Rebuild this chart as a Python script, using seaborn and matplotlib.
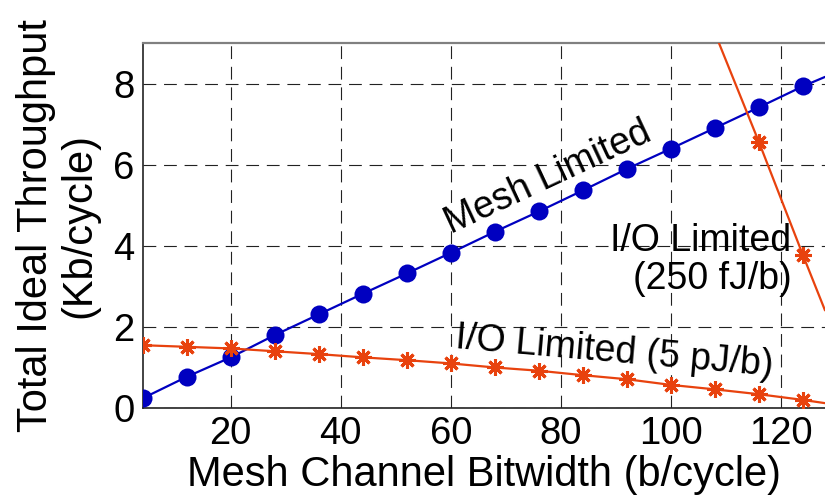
import matplotlib
matplotlib.use("Agg")
import matplotlib.pyplot as plt
import pandas as pd
import seaborn as sns

# bitwidth sweep (b/cycle); last point 128 is drawn as line only
bitwidth = [4, 12, 20, 28, 36, 44, 52, 60, 68, 76, 84, 92, 100, 108, 116, 124, 128]
mesh_tp = [0.24, 0.77, 1.25, 1.80, 2.31, 2.82, 3.32, 3.83, 4.35, 4.85,
           5.37, 5.90, 6.40, 6.91, 7.42, 7.94, 8.17]
io_5pj_tp = [1.55, 1.51, 1.47, 1.40, 1.33, 1.25, 1.18, 1.10, 1.00, 0.92,
             0.81, 0.71, 0.57, 0.46, 0.34, 0.20, 0.12]

io_250fj_bw = [108, 116, 124, 128]
io_250fj_tp = [9.25, 6.56, 3.77, 2.41]

x_ticks = [20, 40, 60, 80, 100, 120]
y_ticks = [0, 2, 4, 6, 8]

BLUE = "#0000c0"
ORANGE = "#e8420e"

sns.set_theme(style="white")
plt.rcParams["font.family"] = ["Liberation Sans", "DejaVu Sans"]
plt.rcParams["text.color"] = "black"
plt.rcParams["axes.labelcolor"] = "black"

mesh_df = pd.DataFrame({"bw": bitwidth, "tp": mesh_tp})
io5_df = pd.DataFrame({"bw": bitwidth, "tp": io_5pj_tp})
io250_df = pd.DataFrame({"bw": io_250fj_bw, "tp": io_250fj_tp})

fig = plt.figure(figsize=(8.25, 5.01), dpi=100)
ax = fig.add_axes([0.173, 0.1856, 0.827, 0.728])

sns.lineplot(
    data=mesh_df, x="bw", y="tp", ax=ax, color=BLUE, linewidth=1.6,
    marker="o", markersize=13, markeredgecolor=BLUE, markeredgewidth=0,
    markevery=slice(0, 16), zorder=3,
)
sns.lineplot(
    data=io5_df, x="bw", y="tp", ax=ax, color=ORANGE, linewidth=1.6,
    marker=(8, 2, 0), markersize=12, markeredgecolor=ORANGE, markeredgewidth=2.2,
    markevery=slice(0, 16), zorder=4,
)
sns.lineplot(
    data=io250_df, x="bw", y="tp", ax=ax, color=ORANGE, linewidth=1.6,
    marker=(8, 2, 0), markersize=12, markeredgecolor=ORANGE, markeredgewidth=2.2,
    markevery=[1, 2], zorder=4,
)

ax.set_xlim(4, 128)
ax.set_ylim(0, 9)
ax.set_xticks(x_ticks)
ax.set_yticks(y_ticks)
ax.tick_params(axis="both", labelsize=27.5, direction="in", length=6,
               width=1, colors="black", labelcolor="black", pad=6)

ax.grid(True, color="#222222", linestyle=(0, (11.5, 7.0)), linewidth=0.8)
ax.set_axisbelow(True)

for side in ("left", "bottom"):
    ax.spines[side].set_color("#222222")
    ax.spines[side].set_linewidth(1.2)
ax.spines["top"].set_color("#808080")
ax.spines["top"].set_linewidth(1.6)
ax.spines["right"].set_visible(False)

ax.set_xlabel("Mesh Channel Bitwidth (b/cycle)", fontsize=30, labelpad=2,
              color="black")
ax.set_ylabel("Total Ideal Throughput\n(Kb/cycle)", fontsize=30,
              linespacing=1.1, va="center", color="black")
ax.yaxis.set_label_coords(-0.125, 0.5)

ax.text(77.6, 5.67, "Mesh Limited", fontsize=27, rotation=25, color="black",
        rotation_mode="anchor", ha="center", va="center")
ax.text(121.9, 3.65, "I/O Limited\n(250 fJ/b)", fontsize=27, ha="right",
        va="center", multialignment="right", linespacing=1.05, color="black")
ax.text(89.7, 1.38, "I/O Limited (5 pJ/b)", fontsize=27, rotation=-5,
        color="black", rotation_mode="anchor", ha="center", va="center")

fig.savefig("out.png", dpi=100)
plt.close(fig)
